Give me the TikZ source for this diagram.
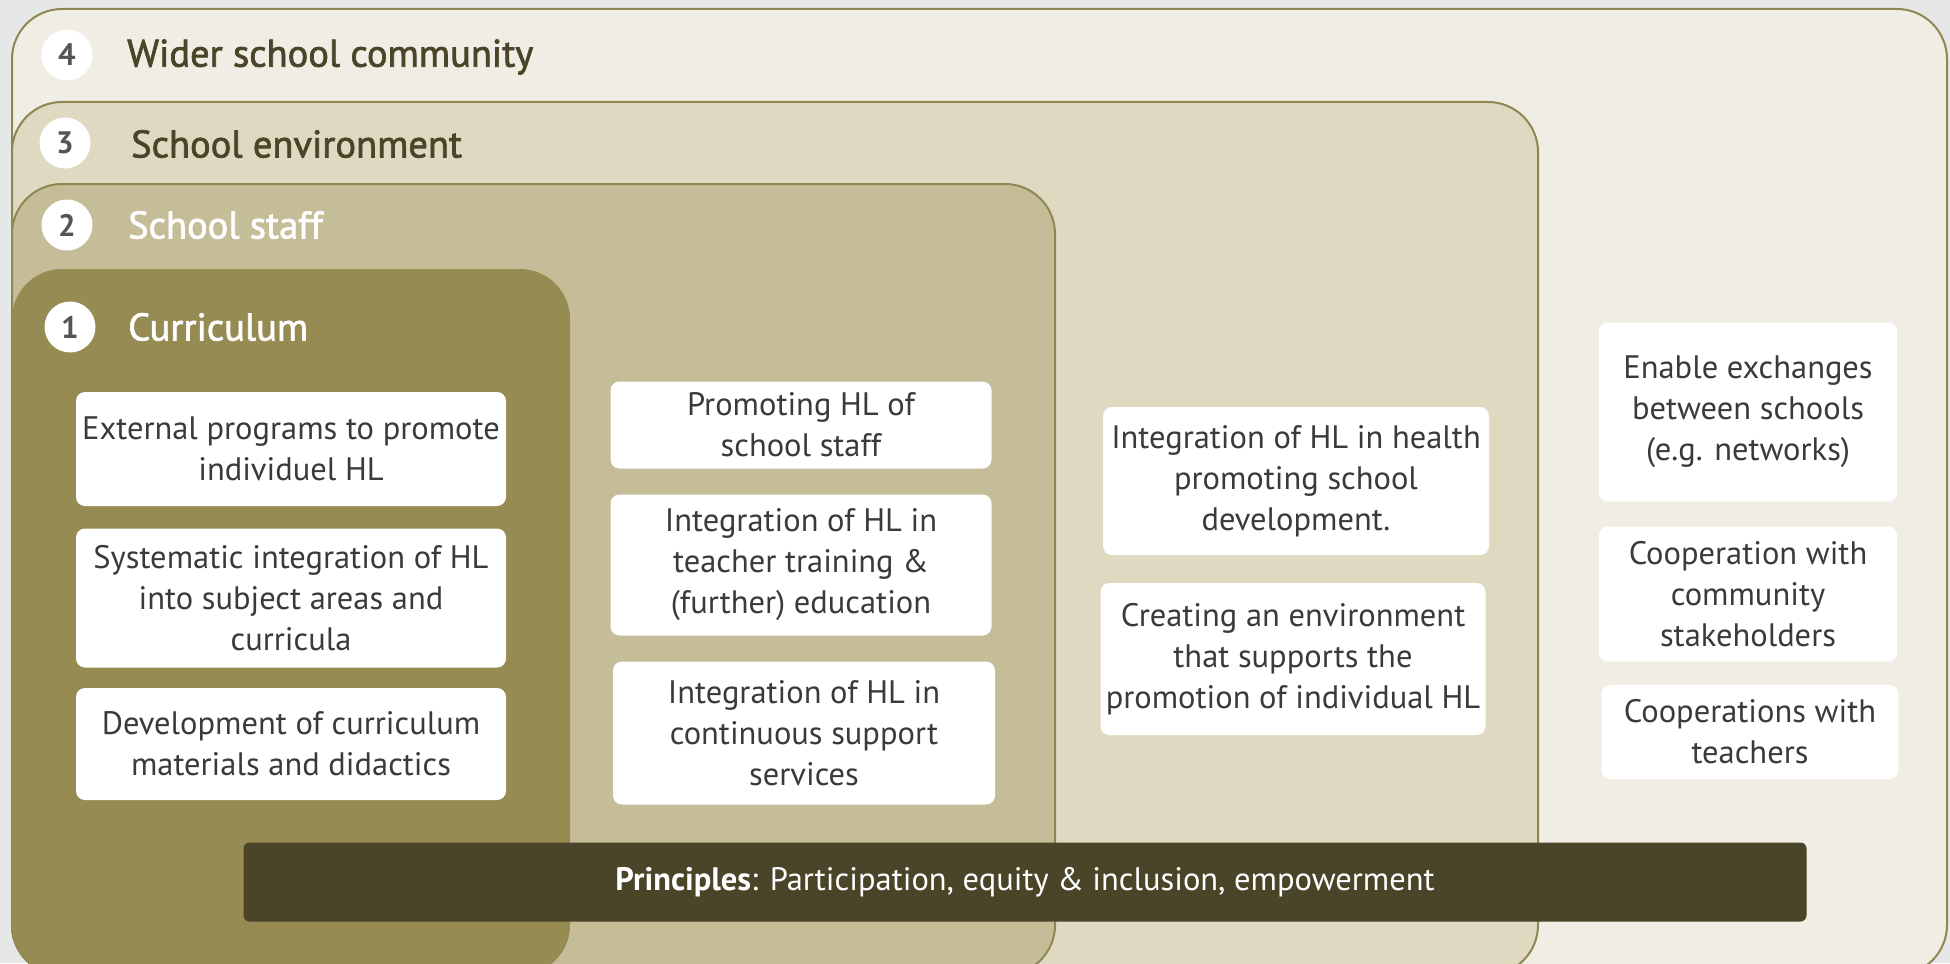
\documentclass[tikz,border=0pt]{standalone}
\usepackage{fontspec}
\setmainfont{PT Sans}
\newfontfamily\headfont{PT Sans}[FakeBold=1.8]
\definecolor{bgc}{HTML}{E6E8E7}
\definecolor{c4}{HTML}{F0EDE4}
\definecolor{c3}{HTML}{DFD9C2}
\definecolor{c2}{HTML}{C5BD98}
\definecolor{c1}{HTML}{958B53}
\definecolor{edge}{HTML}{8F8751}
\definecolor{dark}{HTML}{4A4429}
\definecolor{txt}{HTML}{3A3A3A}
\definecolor{numc}{HTML}{555555}
\tikzset{
  x=1pt,y=-1pt,
  layer/.style={draw=edge,line width=2pt,rounded corners=50pt},
  wbox/.style={fill=white,rounded corners=9pt,align=center,text=txt,inner sep=0pt,
    font=\fontsize{32.5}{41}\selectfont},
  numcirc/.style={circle,fill=white,minimum size=51pt,inner sep=0pt,text=numc,
    font=\fontsize{31}{32}\selectfont\bfseries},
  headd/.style={anchor=west,text=dark,font=\headfont\fontsize{38.5}{44}\selectfont,inner sep=0pt},
  headw/.style={anchor=west,text=white,font=\headfont\fontsize{38.5}{44}\selectfont,inner sep=0pt},
}
\begin{document}
\begin{tikzpicture}
\useasboundingbox (0,0) rectangle (1950,963);
\fill[bgc] (0,0) rectangle (1950,963);
\clip (0,0) rectangle (1950,963);
% layers
\filldraw[layer,fill=c4] (12,9) rectangle (1947,975);
\filldraw[layer,fill=c3] (12,102) rectangle (1538,975);
\filldraw[layer,fill=c2] (12,184) rectangle (1055,975);
\fill[c1,rounded corners=50pt] (12,269) rectangle (570,975);
% headings
\node[numcirc] (n4) at (67,55) {4};
\node[headd] (h4) at (127,57) {Wider school community};
\node[numcirc] (n3) at (65,143) {3};
\node[headd] (h3) at (131,144) {School environment};
\node[numcirc] (n2) at (67,225) {2};
\node[headw] (h2) at (128,225) {School staff};
\node[numcirc] (n1) at (70,327) {1};
\node[headw] (h1) at (128,327) {Curriculum};
% column 1
\node[wbox,minimum width=430pt,minimum height=114pt] (b1) at (291,449) {External programs to promote\\individuel HL};
\node[wbox,minimum width=430pt,minimum height=139pt] (b2) at (291,598) {Systematic integration of HL\\into subject areas and\\curricula};
\node[wbox,minimum width=430pt,minimum height=112pt] (b3) at (291,744) {Development of curriculum\\materials and didactics};
% column 2
\node[wbox,minimum width=381pt,minimum height=87pt] (c1b) at (801,425) {Promoting HL of\\school staff};
\node[wbox,minimum width=381pt,minimum height=141pt] (c2b) at (801,565) {Integration of HL in\\teacher training \&\\(further) education};
\node[wbox,minimum width=382pt,minimum height=143pt] (c3b) at (804,733) {Integration of HL in\\continuous support\\services};
% column 3
\node[wbox,minimum width=386pt,minimum height=148pt] (d1) at (1296,481) {Integration of HL in health\\promoting school\\development.};
\node[wbox,minimum width=385pt,minimum height=152pt] (d2) at (1293,659) {Creating an environment\\that supports the\\promotion of individual HL};
% column 4
\node[wbox,minimum width=298pt,minimum height=179pt] (e1) at (1748,412) {Enable exchanges\\between schools\\(e.g. networks)};
\node[wbox,minimum width=298pt,minimum height=135pt] (e2) at (1748,594) {Cooperation with\\community\\stakeholders};
\node[wbox,minimum width=297pt,minimum height=94pt] (e3) at (1750,732) {Cooperations with\\teachers};
% principles
\node[fill=dark,rounded corners=6pt,minimum width=1563pt,minimum height=79pt,inner sep=0pt,
  text=white,font=\fontsize{32.5}{36}\selectfont] (pr) at (1025,882)
  {\textbf{Principles}: Participation, equity \& inclusion, empowerment};
\end{tikzpicture}
\end{document}
